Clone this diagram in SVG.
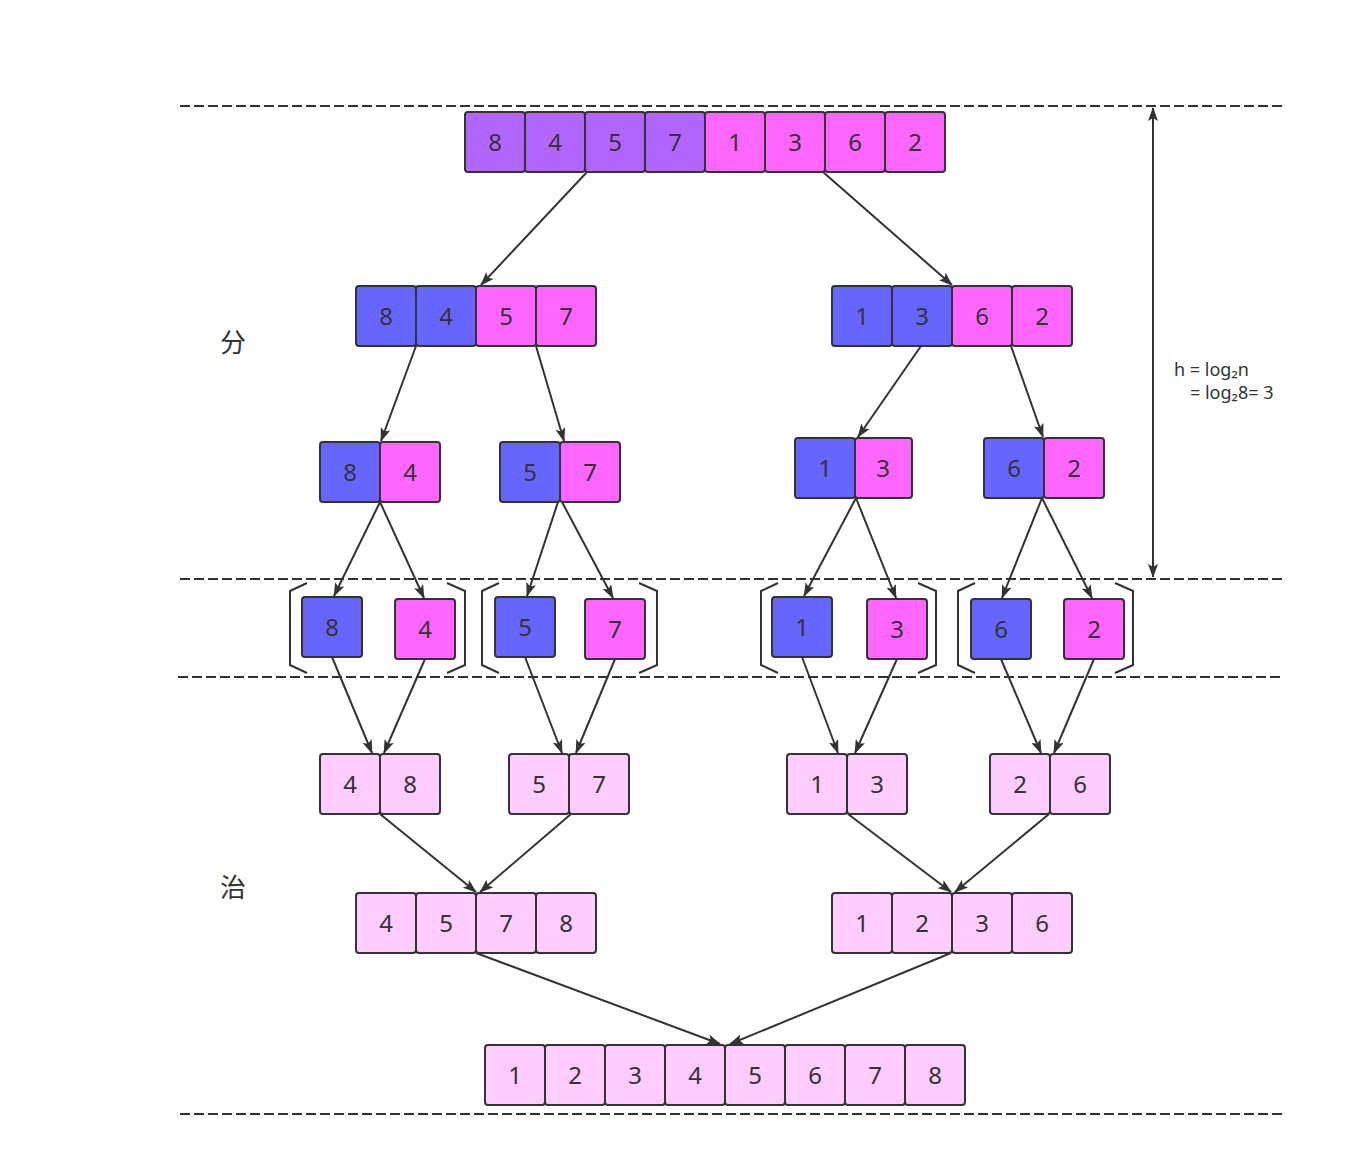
<svg xmlns="http://www.w3.org/2000/svg" width="1347" height="1176" viewBox="0 0 1347 1176">
<style>
.b{stroke:#333;stroke-width:2}
.p{fill:#B266FF}.m{fill:#FF66FF}.u{fill:#6666FF}.l{fill:#FFCCFF}
text{font-family:"Noto Sans","Open Sans","Noto Sans CJK SC",sans-serif;fill:#333;text-anchor:middle}
.n{font-size:24px}
.dash{stroke:#333;stroke-width:2;stroke-dasharray:10 4;fill:none}
.c{stroke:#333;stroke-width:2;fill:none;marker-end:url(#a)}
.br{stroke:#333;stroke-width:2;fill:none}
</style>
<defs>
<marker id="a" viewBox="0 0 14 10" refX="13" refY="5" markerWidth="14" markerHeight="10" markerUnits="userSpaceOnUse" orient="auto"><path d="M0,0 L14,5 L0,10 L3,5 Z" fill="#333"/></marker>
<marker id="s" viewBox="0 0 14 10" refX="1" refY="5" markerWidth="14" markerHeight="10" markerUnits="userSpaceOnUse" orient="auto"><path d="M14,0 L0,5 L14,10 L11,5 Z" fill="#333"/></marker>
</defs>
<rect width="1347" height="1176" fill="#fff"/>
<g id="guides">
<line class="dash" x1="180" y1="106" x2="1282" y2="106"/>
<line class="dash" x1="180" y1="579" x2="1282" y2="579"/>
<line class="dash" x1="178" y1="677" x2="1280" y2="677"/>
<line class="dash" x1="180" y1="1114" x2="1282" y2="1114"/>
<line x1="1153" y1="108" x2="1153" y2="577" stroke="#333" stroke-width="2" marker-start="url(#s)" marker-end="url(#a)"/>
<text x="1174" y="376" font-size="18" style="text-anchor:start">h = log₂n</text>
<text x="1190" y="399" font-size="18" style="text-anchor:start">= log₂8= 3</text>
<text x="233" y="352" font-size="26" style="font-family:'Noto Sans CJK SC',sans-serif">分</text>
<text x="233" y="897" font-size="26" style="font-family:'Noto Sans CJK SC',sans-serif">治</text>
</g>
<g id="brackets">
<polyline class="br" points="307,583 290,591 290,665 307,673"/>
<polyline class="br" points="447,583 465,591 465,665 447,673"/>
<polyline class="br" points="499,583 482,591 482,665 499,673"/>
<polyline class="br" points="639,583 657,591 657,665 639,673"/>
<polyline class="br" points="778,583 761,591 761,665 778,673"/>
<polyline class="br" points="918,583 936,591 936,665 918,673"/>
<polyline class="br" points="975,583 958,591 958,665 975,673"/>
<polyline class="br" points="1115,583 1133,591 1133,665 1115,673"/>
</g>
<g id="row0">
<rect class="b p" x="465" y="112" width="60" height="60" rx="3"/><text class="n" x="495" y="151">8</text>
<rect class="b p" x="525" y="112" width="60" height="60" rx="3"/><text class="n" x="555" y="151">4</text>
<rect class="b p" x="585" y="112" width="60" height="60" rx="3"/><text class="n" x="615" y="151">5</text>
<rect class="b p" x="645" y="112" width="60" height="60" rx="3"/><text class="n" x="675" y="151">7</text>
<rect class="b m" x="705" y="112" width="60" height="60" rx="3"/><text class="n" x="735" y="151">1</text>
<rect class="b m" x="765" y="112" width="60" height="60" rx="3"/><text class="n" x="795" y="151">3</text>
<rect class="b m" x="825" y="112" width="60" height="60" rx="3"/><text class="n" x="855" y="151">6</text>
<rect class="b m" x="885" y="112" width="60" height="60" rx="3"/><text class="n" x="915" y="151">2</text>
</g>
<g id="row1-left">
<rect class="b u" x="356" y="286" width="60" height="60" rx="3"/><text class="n" x="386" y="325">8</text>
<rect class="b u" x="416" y="286" width="60" height="60" rx="3"/><text class="n" x="446" y="325">4</text>
<rect class="b m" x="476" y="286" width="60" height="60" rx="3"/><text class="n" x="506" y="325">5</text>
<rect class="b m" x="536" y="286" width="60" height="60" rx="3"/><text class="n" x="566" y="325">7</text>
</g>
<g id="row1-right">
<rect class="b u" x="832" y="286" width="60" height="60" rx="3"/><text class="n" x="862" y="325">1</text>
<rect class="b u" x="892" y="286" width="60" height="60" rx="3"/><text class="n" x="922" y="325">3</text>
<rect class="b m" x="952" y="286" width="60" height="60" rx="3"/><text class="n" x="982" y="325">6</text>
<rect class="b m" x="1012" y="286" width="60" height="60" rx="3"/><text class="n" x="1042" y="325">2</text>
</g>
<g id="row2-84">
<rect class="b u" x="320" y="442" width="60" height="60" rx="3"/><text class="n" x="350" y="481">8</text>
<rect class="b m" x="380" y="442" width="60" height="60" rx="3"/><text class="n" x="410" y="481">4</text>
</g>
<g id="row2-57">
<rect class="b u" x="500" y="442" width="60" height="60" rx="3"/><text class="n" x="530" y="481">5</text>
<rect class="b m" x="560" y="442" width="60" height="60" rx="3"/><text class="n" x="590" y="481">7</text>
</g>
<g id="row2-13">
<rect class="b u" x="795" y="438" width="60" height="60" rx="3"/><text class="n" x="825" y="477">1</text>
<rect class="b m" x="855" y="438" width="57" height="60" rx="3"/><text class="n" x="883" y="477">3</text>
</g>
<g id="row2-62">
<rect class="b u" x="984" y="438" width="60" height="60" rx="3"/><text class="n" x="1014" y="477">6</text>
<rect class="b m" x="1044" y="438" width="60" height="60" rx="3"/><text class="n" x="1074" y="477">2</text>
</g>
<g id="row3">
<rect class="b u" x="302" y="597" width="60" height="60" rx="3"/><text class="n" x="332" y="636">8</text>
<rect class="b m" x="395" y="599" width="60" height="60" rx="3"/><text class="n" x="425" y="638">4</text>
<rect class="b u" x="495" y="597" width="60" height="60" rx="3"/><text class="n" x="525" y="636">5</text>
<rect class="b m" x="585" y="599" width="60" height="60" rx="3"/><text class="n" x="615" y="638">7</text>
<rect class="b u" x="772" y="597" width="60" height="60" rx="3"/><text class="n" x="802" y="636">1</text>
<rect class="b m" x="867" y="599" width="60" height="60" rx="3"/><text class="n" x="897" y="638">3</text>
<rect class="b u" x="971" y="599" width="60" height="60" rx="3"/><text class="n" x="1001" y="638">6</text>
<rect class="b m" x="1064" y="599" width="60" height="60" rx="3"/><text class="n" x="1094" y="638">2</text>
</g>
<g id="row4">
<rect class="b l" x="320" y="754" width="60" height="60" rx="3"/><text class="n" x="350" y="793">4</text>
<rect class="b l" x="380" y="754" width="60" height="60" rx="3"/><text class="n" x="410" y="793">8</text>
<rect class="b l" x="509" y="754" width="60" height="60" rx="3"/><text class="n" x="539" y="793">5</text>
<rect class="b l" x="569" y="754" width="60" height="60" rx="3"/><text class="n" x="599" y="793">7</text>
<rect class="b l" x="787" y="754" width="60" height="60" rx="3"/><text class="n" x="817" y="793">1</text>
<rect class="b l" x="847" y="754" width="60" height="60" rx="3"/><text class="n" x="877" y="793">3</text>
<rect class="b l" x="990" y="754" width="60" height="60" rx="3"/><text class="n" x="1020" y="793">2</text>
<rect class="b l" x="1050" y="754" width="60" height="60" rx="3"/><text class="n" x="1080" y="793">6</text>
</g>
<g id="row5">
<rect class="b l" x="356" y="893" width="60" height="60" rx="3"/><text class="n" x="386" y="932">4</text>
<rect class="b l" x="416" y="893" width="60" height="60" rx="3"/><text class="n" x="446" y="932">5</text>
<rect class="b l" x="476" y="893" width="60" height="60" rx="3"/><text class="n" x="506" y="932">7</text>
<rect class="b l" x="536" y="893" width="60" height="60" rx="3"/><text class="n" x="566" y="932">8</text>
<rect class="b l" x="832" y="893" width="60" height="60" rx="3"/><text class="n" x="862" y="932">1</text>
<rect class="b l" x="892" y="893" width="60" height="60" rx="3"/><text class="n" x="922" y="932">2</text>
<rect class="b l" x="952" y="893" width="60" height="60" rx="3"/><text class="n" x="982" y="932">3</text>
<rect class="b l" x="1012" y="893" width="60" height="60" rx="3"/><text class="n" x="1042" y="932">6</text>
</g>
<g id="row6">
<rect class="b l" x="485" y="1045" width="60" height="60" rx="3"/><text class="n" x="515" y="1084">1</text>
<rect class="b l" x="545" y="1045" width="60" height="60" rx="3"/><text class="n" x="575" y="1084">2</text>
<rect class="b l" x="605" y="1045" width="60" height="60" rx="3"/><text class="n" x="635" y="1084">3</text>
<rect class="b l" x="665" y="1045" width="60" height="60" rx="3"/><text class="n" x="695" y="1084">4</text>
<rect class="b l" x="725" y="1045" width="60" height="60" rx="3"/><text class="n" x="755" y="1084">5</text>
<rect class="b l" x="785" y="1045" width="60" height="60" rx="3"/><text class="n" x="815" y="1084">6</text>
<rect class="b l" x="845" y="1045" width="60" height="60" rx="3"/><text class="n" x="875" y="1084">7</text>
<rect class="b l" x="905" y="1045" width="60" height="60" rx="3"/><text class="n" x="935" y="1084">8</text>
</g>
<g id="connectors">
<line class="c" x1="587" y1="172" x2="481" y2="285"/>
<line class="c" x1="823" y1="172" x2="952" y2="285"/>
<line class="c" x1="416" y1="346" x2="381" y2="441"/>
<line class="c" x1="536" y1="346" x2="564" y2="441"/>
<line class="c" x1="921" y1="346" x2="858" y2="437"/>
<line class="c" x1="1011" y1="346" x2="1043" y2="437"/>
<line class="c" x1="380" y1="502" x2="334" y2="596"/>
<line class="c" x1="380" y1="502" x2="424" y2="598"/>
<line class="c" x1="558" y1="502" x2="527" y2="596"/>
<line class="c" x1="562" y1="502" x2="613" y2="598"/>
<line class="c" x1="856" y1="498" x2="804" y2="596"/>
<line class="c" x1="856" y1="498" x2="896" y2="598"/>
<line class="c" x1="1042" y1="498" x2="1002" y2="598"/>
<line class="c" x1="1042" y1="498" x2="1092" y2="598"/>
<line class="c" x1="332" y1="657" x2="372" y2="753"/>
<line class="c" x1="425" y1="659" x2="384" y2="753"/>
<line class="c" x1="525" y1="657" x2="562" y2="753"/>
<line class="c" x1="615" y1="659" x2="576" y2="753"/>
<line class="c" x1="802" y1="657" x2="838" y2="753"/>
<line class="c" x1="897" y1="659" x2="855" y2="753"/>
<line class="c" x1="1001" y1="659" x2="1041" y2="753"/>
<line class="c" x1="1094" y1="659" x2="1054" y2="753"/>
<line class="c" x1="380" y1="814" x2="476" y2="892"/>
<line class="c" x1="571" y1="814" x2="480" y2="892"/>
<line class="c" x1="848" y1="814" x2="951" y2="892"/>
<line class="c" x1="1049" y1="814" x2="955" y2="892"/>
<line class="c" x1="476" y1="953" x2="720" y2="1044"/>
<line class="c" x1="951" y1="953" x2="730" y2="1044"/>
</g>
</svg>
